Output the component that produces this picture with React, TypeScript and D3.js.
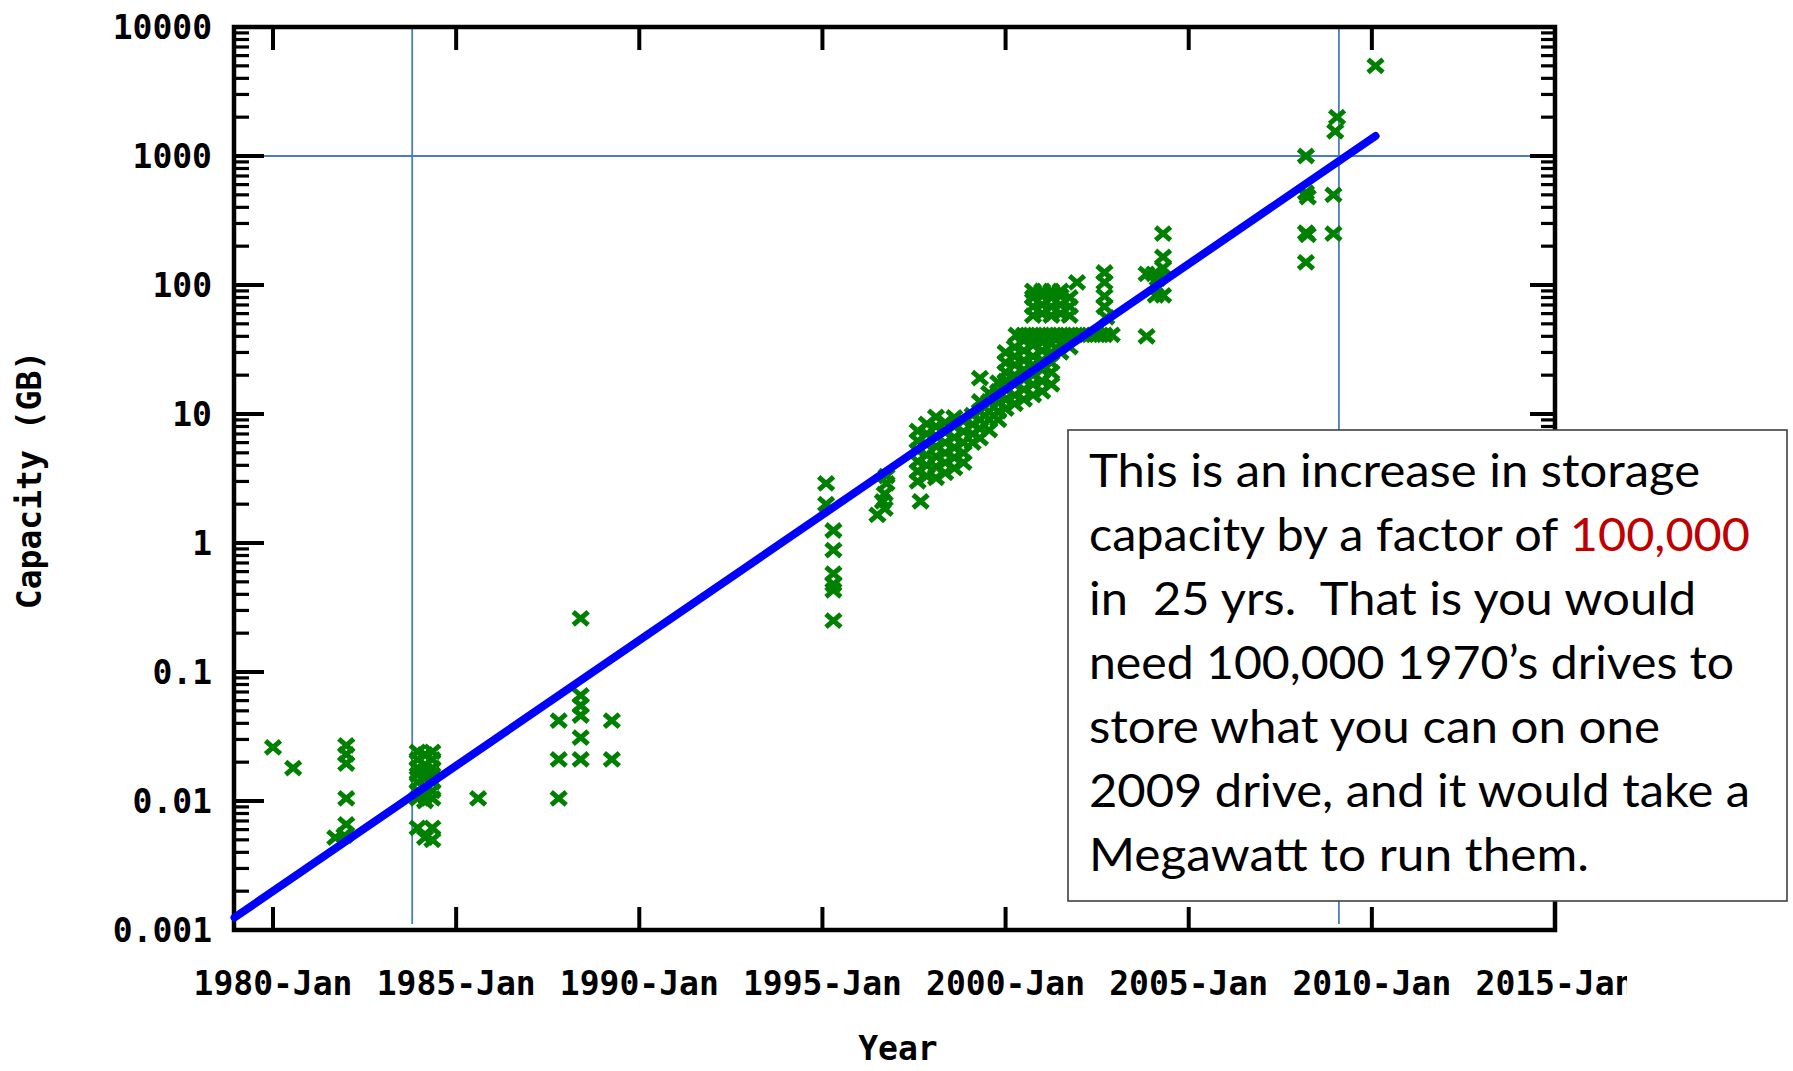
import React from 'react';
import * as d3 from 'd3';

const W = 1793;
const H = 1071;

// ---- axes ----
const xDomain: [number, number] = [1978.935, 2015.0];
const yDomain: [number, number] = [0.001, 10000];
const xTickYears = [1980, 1985, 1990, 1995, 2000, 2005, 2010, 2015];
const xTickLabels = ['1980-Jan', '1985-Jan', '1990-Jan', '1995-Jan', '2000-Jan', '2005-Jan', '2010-Jan', '2015-Jan'];
const yTickValues = [0.001, 0.01, 0.1, 1, 10, 100, 1000, 10000];
const yTickLabels = ['0.001', '0.01', '0.1', '1', '10', '100', '1000', '10000'];
const xAxisTitle = 'Year';
const yAxisTitle = 'Capacity (GB)';

// ---- drive capacities: [year, GB] ----
const drives1980s: [number, number][] = [
  [1980.0, 0.026], [1980.55, 0.018],
  [1982.0, 0.027], [1982.0, 0.023], [1982.0, 0.0195], [1982.0, 0.0105], [1982.0, 0.0066], [1981.95, 0.0054], [1981.7, 0.0052],
  [1983.95, 0.024], [1983.95, 0.021], [1983.95, 0.018], [1983.95, 0.016], [1983.95, 0.014], [1983.95, 0.012], [1983.95, 0.0105], [1983.95, 0.0062],
  [1984.15, 0.023], [1984.15, 0.019], [1984.15, 0.017], [1984.15, 0.015], [1984.15, 0.013], [1984.15, 0.011], [1984.15, 0.01], [1984.15, 0.0052],
  [1984.35, 0.024], [1984.35, 0.021], [1984.35, 0.018], [1984.35, 0.016], [1984.35, 0.014], [1984.35, 0.012], [1984.35, 0.0105], [1984.35, 0.0062], [1984.35, 0.005],
  [1985.6, 0.0105],
  [1987.8, 0.042], [1987.8, 0.021], [1987.8, 0.0105],
  [1988.4, 0.26], [1988.4, 0.066], [1988.4, 0.055], [1988.4, 0.046], [1988.4, 0.031], [1988.4, 0.021],
  [1989.25, 0.042], [1989.25, 0.021],
];

const drives1990s: [number, number][] = [
  [1995.1, 2.9], [1995.1, 2.0],
  [1995.3, 1.25], [1995.3, 0.88], [1995.3, 0.58], [1995.3, 0.48], [1995.3, 0.43], [1995.3, 0.25],
  [1996.75, 3.3], [1996.75, 2.9], [1996.7, 2.4], [1996.65, 2.1], [1996.7, 1.85], [1996.5, 1.65],
  [1997.68, 2.1],
  [1997.6, 3.0], [1997.6, 3.6], [1997.6, 4.3], [1997.6, 5.2], [1997.6, 6.2], [1997.6, 7.4],
  [1997.85, 3.3], [1997.85, 4.0], [1997.85, 4.8], [1997.85, 5.8], [1997.85, 7.0], [1997.85, 8.4],
  [1998.1, 3.2], [1998.1, 3.9], [1998.1, 4.7], [1998.1, 5.6], [1998.1, 6.8], [1998.1, 8.0], [1998.1, 9.5],
  [1998.35, 3.5], [1998.35, 4.2], [1998.35, 5.0], [1998.35, 6.0], [1998.35, 7.2], [1998.35, 8.6],
  [1998.6, 3.8], [1998.6, 4.6], [1998.6, 5.5], [1998.6, 6.6], [1998.6, 8.0], [1998.6, 9.4],
  [1998.85, 4.2], [1998.85, 5.0], [1998.85, 6.0], [1998.85, 7.3], [1998.85, 8.8],
  [1999.1, 6.0], [1999.1, 7.0], [1999.1, 8.3], [1999.1, 9.8],
  [1999.3, 6.5], [1999.3, 7.7], [1999.3, 9.0], [1999.3, 10.5], [1999.3, 12.5], [1999.3, 19],
  [1999.55, 7.5], [1999.55, 9.0], [1999.55, 10.5], [1999.55, 12.5], [1999.55, 14.5],
  [1999.8, 9.0], [1999.8, 10.5], [1999.8, 12.5], [1999.8, 15], [1999.8, 17.5],
];

const drives2000s: [number, number][] = [
  [2000.0, 11], [2000.0, 13], [2000.0, 15.5], [2000.0, 18], [2000.0, 21], [2000.0, 25], [2000.0, 30],
  [2000.25, 12], [2000.25, 14], [2000.25, 17], [2000.25, 20], [2000.25, 24], [2000.25, 28], [2000.25, 33],
  [2000.5, 13], [2000.5, 15.5], [2000.5, 18.5], [2000.5, 22], [2000.5, 26], [2000.5, 31], [2000.5, 37],
  [2000.75, 14], [2000.75, 17], [2000.75, 20], [2000.75, 24], [2000.75, 28], [2000.75, 34],
  [2001.0, 15], [2001.0, 18], [2001.0, 22], [2001.0, 26], [2001.0, 31], [2001.0, 36],
  [2001.25, 17], [2001.25, 21], [2001.25, 25], [2001.25, 30], [2001.25, 35],
  [2001.5, 30], [2001.5, 35], [2001.75, 33],
  [2000.3, 41], [2000.5, 41], [2000.7, 41], [2000.9, 41], [2001.1, 41], [2001.3, 41], [2001.5, 41],
  [2001.7, 41], [2001.9, 41], [2002.1, 41], [2002.3, 41], [2002.5, 41], [2002.7, 41], [2002.9, 41],
  [2000.75, 58], [2000.75, 68], [2000.75, 80], [2000.75, 90],
  [2001.0, 60], [2001.0, 70], [2001.0, 82], [2001.0, 90],
  [2001.25, 58], [2001.25, 68], [2001.25, 80], [2001.25, 90],
  [2001.5, 60], [2001.5, 70], [2001.5, 82], [2001.5, 90],
  [2001.75, 58], [2001.75, 68], [2001.75, 80],
  [2001.95, 105],
  [2002.7, 125], [2002.7, 105], [2002.7, 82], [2002.7, 68], [2002.75, 56],
  [2003.85, 122], [2004.05, 122], [2004.3, 250], [2004.3, 165], [2004.3, 135], [2004.15, 112],
  [2004.1, 83], [2004.3, 83], [2003.85, 40],
];

const drives2008on: [number, number][] = [
  [2008.2, 1000], [2008.2, 520], [2008.25, 480], [2008.2, 255], [2008.25, 245], [2008.2, 150],
  [2009.05, 2000], [2009.0, 1550], [2008.95, 500], [2008.95, 250],
  [2010.1, 5000],
];

// ---- fitted trend & reference lines ----
const trendYears = [1978.95, 2010.1];
const trendCapacity = [0.00125, 1430];
const refYears = [1983.8, 2009.1];
const refCapacity = 1000;

// ---- annotation ----
const noteLines: { parts: { text: string; red?: boolean }[]; width: number }[] = [
  { parts: [{ text: 'This is an increase in storage' }], width: 611 },
  { parts: [{ text: 'capacity by a factor of ' }, { text: '100,000', red: true }], width: 661 },
  { parts: [{ text: 'in  25 yrs.  That is you would' }], width: 607 },
  { parts: [{ text: 'need 100,000 1970\u2019s drives to' }], width: 645 },
  { parts: [{ text: 'store what you can on one' }], width: 571 },
  { parts: [{ text: '2009 drive, and it would take a' }], width: 661 },
  { parts: [{ text: 'Megawatt to run them.' }], width: 500 },
];

const allDrives = [...drives1980s, ...drives1990s, ...drives2000s, ...drives2008on];

export default function App() {
  const left = 234, right = 1555, top = 27, bottom = 930;
  const x = d3.scaleLinear().domain(xDomain).range([left, right]);
  const y = d3.scaleLog().domain(yDomain).range([bottom, top]);

  const minor: number[] = [];
  for (let i = 0; i < yTickValues.length - 1; i++) {
    for (let m = 2; m <= 9; m++) minor.push(yTickValues[i] * m);
  }

  const trendLine = d3.line<number>()
    .x((d, i) => x(trendYears[i]))
    .y((d) => y(d));

  const axisFont = "'DejaVu Sans Mono', monospace";
  const green = '#008000';
  const refBlue = '#4a7ebb';

  return (
    <svg width={W} height={H} style={{ position: 'absolute', left: 0, top: 0, display: 'block', background: '#fff' }}>
      <defs>
        <clipPath id="labelClip">
          <rect x={0} y={0} width={1627} height={H} />
        </clipPath>
      </defs>
      <rect x={0} y={0} width={W} height={H} fill="#fff" />

      {/* reference lines */}
      {refYears.map((yr, i) => (
        <line key={'rv' + i} x1={x(yr)} x2={x(yr)} y1={top + 2} y2={bottom - 6} stroke={refBlue} strokeWidth={1.8} />
      ))}
      <line x1={left + 18} x2={right - 8} y1={y(refCapacity)} y2={y(refCapacity)} stroke={refBlue} strokeWidth={1.8} />

      {/* y ticks */}
      {minor.map((v, i) => (
        <g key={'mn' + i}>
          <line x1={left} x2={left + 15} y1={y(v)} y2={y(v)} stroke="#000" strokeWidth={3.2} />
          <line x1={right} x2={right - 14} y1={y(v)} y2={y(v)} stroke="#000" strokeWidth={3.2} />
        </g>
      ))}
      {yTickValues.map((v, i) => (
        <g key={'yt' + i}>
          <line x1={left} x2={left + 30} y1={y(v)} y2={y(v)} stroke="#000" strokeWidth={4} />
          <line x1={right} x2={right - 25} y1={y(v)} y2={y(v)} stroke="#000" strokeWidth={4} />
          <text x={212} y={y(v)} dy="0.36em" textAnchor="end" fontFamily={axisFont} fontWeight="bold" fontSize={33} fill="#000">
            {yTickLabels[i]}
          </text>
        </g>
      ))}

      {/* x ticks */}
      {xTickYears.map((yr, i) => (
        <g key={'xt' + i}>
          <line x1={x(yr)} x2={x(yr)} y1={bottom} y2={bottom - 23} stroke="#000" strokeWidth={4} />
          <line x1={x(yr)} x2={x(yr)} y1={top} y2={top + 23} stroke="#000" strokeWidth={4} />
          <text x={x(yr)} y={995} textAnchor="middle" fontFamily={axisFont} fontWeight="bold" fontSize={33} fill="#000" clipPath="url(#labelClip)">
            {xTickLabels[i]}
          </text>
        </g>
      ))}

      {/* frame */}
      <rect x={left} y={top} width={right - left} height={bottom - top} fill="none" stroke="#000" strokeWidth={4.5} />

      {/* data */}
      {allDrives.map((d, i) => (
        <path key={'p' + i}
          transform={`translate(${x(d[0])},${y(d[1])})`}
          d="M-7.5,-6.5L7.5,6.5M-7.5,6.5L7.5,-6.5"
          stroke={green} strokeWidth={5} fill="none" />
      ))}

      {/* trend */}
      <path d={trendLine(trendCapacity) || ''} stroke="#0000ff" strokeWidth={8} fill="none" strokeLinecap="round" />

      {/* axis titles */}
      <text x={898} y={1060} textAnchor="middle" fontFamily={axisFont} fontWeight="bold" fontSize={33}>{xAxisTitle}</text>
      <text transform="translate(41,480) rotate(-90)" textAnchor="middle" fontFamily={axisFont} fontWeight="bold" fontSize={33}>{yAxisTitle}</text>

      {/* annotation box */}
      <rect x={1068} y={430} width={719} height={471} fill="#fff" stroke="#404040" strokeWidth={1.6} />
      {noteLines.map((ln, i) => (
        <text key={'n' + i} x={1089} y={487 + i * 64} fontFamily="Lato, 'Open Sans', sans-serif" fontSize={46}
          textLength={ln.width} lengthAdjust="spacingAndGlyphs" style={{ whiteSpace: 'pre' }} fill="#000">
          {ln.parts.map((p, j) => (
            <tspan key={j} fill={p.red ? '#c00000' : '#000'}>{p.text}</tspan>
          ))}
        </text>
      ))}
    </svg>
  );
}
